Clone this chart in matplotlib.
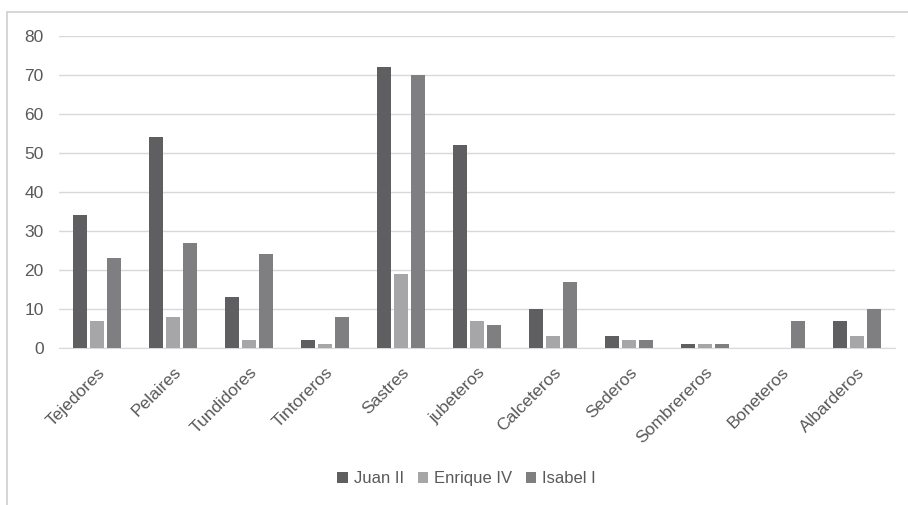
import matplotlib.pyplot as plt
import numpy as np
from matplotlib.patches import Rectangle

categories = ['Tejedores', 'Pelaires', 'Tundidores', 'Tintoreros', 'Sastres',
              'jubeteros', 'Calceteros', 'Sederos', 'Sombrereros', 'Boneteros',
              'Albarderos']
juan_ii = [34, 54, 13, 2, 72, 52, 10, 3, 1, 0, 7]
enrique_iv = [7, 8, 2, 1, 19, 7, 3, 2, 1, 0, 3]
isabel_i = [23, 27, 24, 8, 70, 6, 17, 2, 1, 7, 10]

series = [('Juan II', juan_ii, '#5f5f61'),
          ('Enrique IV', enrique_iv, '#a6a6a8'),
          ('Isabel I', isabel_i, '#7f7f82')]

plt.rcParams['font.family'] = ['Liberation Sans', 'DejaVu Sans']
text_color = '#595959'

fig = plt.figure(figsize=(9.08, 5.05), dpi=100)
ax = fig.add_axes([0.065, 0.311, 0.9207, 0.6177])

# marco del gráfico
fig.patches.append(Rectangle((7 / 908, -0.1), 1.2, 1 - 12 / 505 + 0.1,
                             transform=fig.transFigure, fill=False,
                             edgecolor='#d0d0d0', linewidth=1.2))

x = np.arange(len(categories))
w = 0.175
step = 0.225
for i, (name, vals, col) in enumerate(series):
    ax.bar(x + (i - 1) * step, vals, width=w, color=col, label=name, zorder=3)

ax.set_xlim(-0.5, len(categories) - 0.5)
ax.set_ylim(0, 80)
ax.set_yticks(range(0, 81, 10))
ax.grid(axis='y', color='#d9d9d9', linewidth=1, zorder=0)
for s in ['top', 'right', 'left']:
    ax.spines[s].set_visible(False)
ax.spines['bottom'].set_color('#d9d9d9')
ax.tick_params(axis='both', length=0, colors=text_color, labelsize=12.5)
ax.tick_params(axis='y', pad=11)
ax.tick_params(axis='x', pad=12)
ax.set_xticks(x)
ax.set_xticklabels(categories, rotation=45, ha='right', rotation_mode='anchor')

ax.legend(loc='center', bbox_to_anchor=(0.514, 0.0515), bbox_transform=fig.transFigure,
          ncol=3, frameon=False, fontsize=12, labelcolor=text_color,
          handlelength=0.65, handleheight=0.65, handletextpad=0.35, columnspacing=0.8)

fig.savefig('out.png', dpi=100)
